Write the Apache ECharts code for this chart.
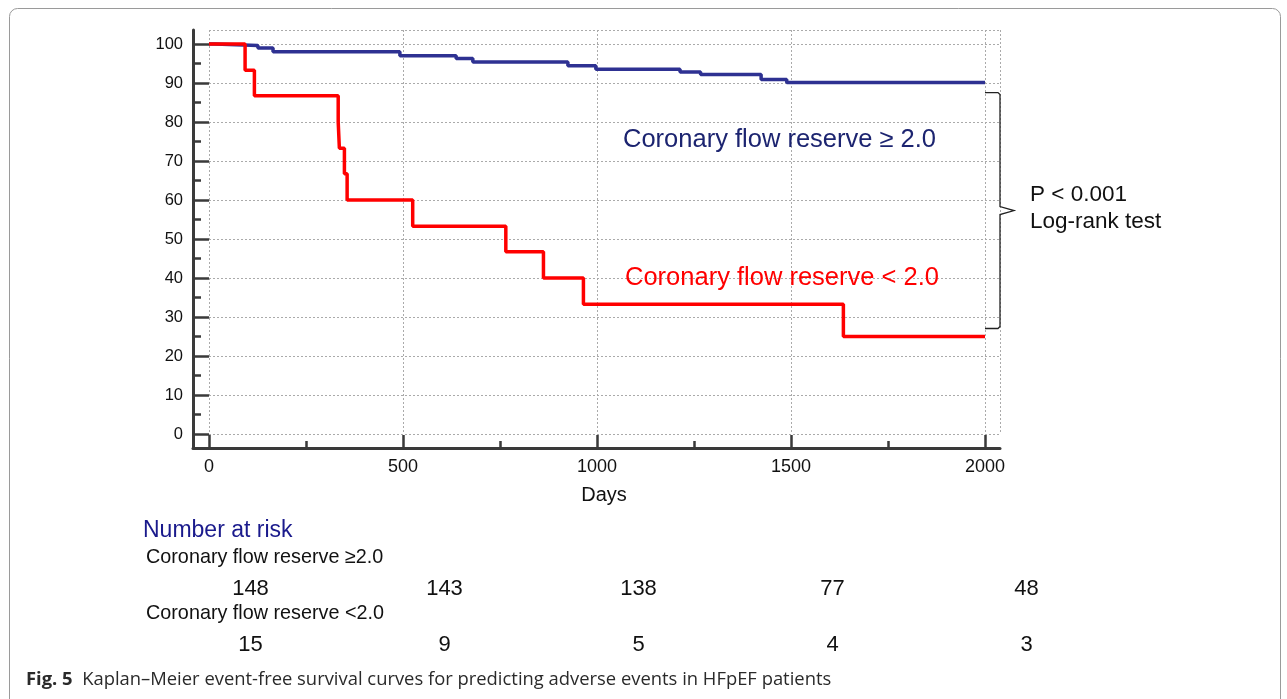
<!DOCTYPE html>
<html>
<head>
<meta charset="utf-8">
<script src="https://cdn.jsdelivr.net/npm/echarts@6/dist/echarts.min.js"></script>
<style>
html,body{margin:0;padding:0;background:#fff;}
#chart{width:1287px;height:699px;}
</style>
</head>
<body>
<div id="chart"></div>
<script>
// ---- Data ----
const cfrHighDays = [0, 15, 126, 165, 492, 637, 680, 925, 997, 1214, 1267, 1423, 1489, 2000];
const cfrHighSurv = [100, 99.6, 99.0, 98.0, 97.0, 96.3, 95.4, 94.4, 93.5, 92.8, 92.2, 90.9, 90.1, 90.1];
const cfrLowDays = [0, 93, 117, 333, 336, 349, 356, 525, 765, 862, 965, 1635, 2000];
const cfrLowSurv = [100, 93.3, 86.7, 80.0, 73.3, 66.7, 60.0, 53.3, 46.7, 40.0, 33.3, 25.0, 25.0];
const xMajorTicks = [0, 500, 1000, 1500, 2000];
const xMinorTicks = [250, 750, 1250, 1750];
const yMajorTicks = [0, 10, 20, 30, 40, 50, 60, 70, 80, 90, 100];
const yMinorTicks = [5, 15, 25, 35, 45, 55, 65, 75, 85, 95];
const riskDays = [0, 500, 1000, 1500, 2000];
const riskHigh = [148, 143, 138, 77, 48];
const riskLow = [15, 9, 5, 4, 3];
const labelHigh = 'Coronary flow reserve ≥ 2.0';
const labelLow = 'Coronary flow reserve < 2.0';
const riskRowHigh = 'Coronary flow reserve ≥2.0';
const riskRowLow = 'Coronary flow reserve <2.0';
const pText = 'P < 0.001';
const testText = 'Log-rank test';
const captionBold = 'Fig. 5';
const captionText = 'Kaplan–Meier event-free survival curves for predicting adverse events in HFpEF patients';

const FONT = '"Liberation Sans", Arial, sans-serif';
const CAPFONT = '"Open Sans", "Noto Sans", sans-serif';
const BLUE = '#2e3192';
const RED = '#ff0000';
const AXIS = '#3a3a3a';

const chart = echarts.init(document.getElementById('chart'), null, {renderer: 'canvas'});

// pixel scale of data grid
const gL = 209, gT = 30, gW = 791, gH = 404;       // data area (0..max)
const xMax = gW / 0.388, yMax = gH / 3.9;
const aL = 193, aBottom = 448;                    // axis frame
const xMin = -(gL - aL) / 0.388, yMin = -(aBottom - (gT + gH)) / 3.9;

function zip(a, b) { return a.map((v, i) => [v, b[i]]); }
const plain = v => String(Math.round(v));

const riskLabel = {show: true, position: [0, 0], align: 'center', verticalAlign: 'middle',
  formatter: p => String(p.value[2]), fontSize: 22, color: '#111', opacity: 1,
  textBorderWidth: 0, fontFamily: FONT};

const option = {
  backgroundColor: '#fff',
  animation: false,
  grid: [
    {left: gL, top: gT, width: gW, height: gH},
    {left: aL, top: gT, width: gL + gW - aL, height: aBottom - gT},
    {left: 251, top: 589, width: 776, height: 56}
  ],
  xAxis: [
    {gridIndex: 0, type: 'value', min: 0, max: xMax, interval: 500,
     axisLine: {show: false}, axisTick: {show: false}, axisLabel: {show: false},
     splitLine: {show: true, lineStyle: {color: '#aaa', width: 1, type: [2, 2]}}},
    {gridIndex: 1, type: 'value', min: xMin, max: xMax, position: 'bottom',
     axisLine: {show: true, onZero: false, lineStyle: {color: AXIS, width: 3}},
     axisTick: {show: true, inside: true, length: 13, customValues: xMajorTicks, lineStyle: {color: AXIS, width: 2.5}},
     axisLabel: {show: true, customValues: xMajorTicks, formatter: plain, margin: 10, fontSize: 18, color: '#111', fontFamily: FONT},
     splitLine: {show: false},
     name: 'Days', nameLocation: 'middle', nameGap: 37,
     nameTextStyle: {fontSize: 20, color: '#111', fontFamily: FONT, padding: [0, 0, 0, 15]}},
    {gridIndex: 1, type: 'value', min: xMin, max: xMax, position: 'bottom',
     axisLine: {show: false, onZero: false},
     axisTick: {show: true, inside: true, length: 7, customValues: xMinorTicks, lineStyle: {color: AXIS, width: 2.5}},
     axisLabel: {show: false}, splitLine: {show: false}},
    {gridIndex: 2, type: 'value', min: 0, max: 2000, show: false}
  ],
  yAxis: [
    {gridIndex: 0, type: 'value', min: 0, max: yMax, interval: 10,
     axisLine: {show: false}, axisTick: {show: false}, axisLabel: {show: false},
     splitLine: {show: true, lineStyle: {color: '#aaa', width: 1, type: [2, 2]}}},
    {gridIndex: 1, type: 'value', min: yMin, max: yMax, position: 'left',
     axisLine: {show: true, onZero: false, lineStyle: {color: AXIS, width: 3}},
     axisTick: {show: true, inside: true, length: 16, customValues: yMajorTicks, lineStyle: {color: AXIS, width: 2.5}},
     axisLabel: {show: true, customValues: yMajorTicks, formatter: plain, margin: 10, fontSize: 16.5, color: '#111', fontFamily: FONT},
     splitLine: {show: false}},
    {gridIndex: 1, type: 'value', min: yMin, max: yMax, position: 'left',
     axisLine: {show: false, onZero: false},
     axisTick: {show: true, inside: true, length: 8, customValues: yMinorTicks, lineStyle: {color: AXIS, width: 2.5}},
     axisLabel: {show: false}, splitLine: {show: false}},
    {gridIndex: 2, type: 'value', min: 0, max: 1, inverse: true, show: false}
  ],
  series: [
    {type: 'line', name: labelHigh, xAxisIndex: 0, yAxisIndex: 0, step: 'end',
     data: zip(cfrHighDays, cfrHighSurv), showSymbol: false, symbol: 'none',
     lineStyle: {color: BLUE, width: 3.5}, z: 3},
    {type: 'line', name: labelLow, xAxisIndex: 0, yAxisIndex: 0, step: 'end',
     data: zip(cfrLowDays, cfrLowSurv), showSymbol: false, symbol: 'none',
     lineStyle: {color: RED, width: 3.5}, z: 4},
    {type: 'scatter', xAxisIndex: 3, yAxisIndex: 3, symbolSize: 1,
     itemStyle: {color: '#fff', opacity: 1},
     data: riskDays.map((d, i) => [d, 0, riskHigh[i]]), label: riskLabel},
    {type: 'scatter', xAxisIndex: 3, yAxisIndex: 3, symbolSize: 1,
     itemStyle: {color: '#fff', opacity: 1},
     data: riskDays.map((d, i) => [d, 1, riskLow[i]]), label: riskLabel}
  ]
};
chart.setOption(option);

// bracket between final survival levels, positioned through the data scale
const pTop = chart.convertToPixel({gridIndex: 0}, [2000, cfrHighSurv[cfrHighSurv.length - 1]]);
const pBot = chart.convertToPixel({gridIndex: 0}, [2000, cfrLowSurv[cfrLowSurv.length - 1]]);
const yT = pTop[1] + 10, yB = pBot[1] - 8, xS = pTop[0], xV = xS + 15, yM = (yT + yB) / 2;

chart.setOption({
  graphic: [
    {type: 'rect', shape: {x: 9.5, y: 8.5, width: 1271, height: 720, r: 8},
     style: {fill: 'none', stroke: '#9a9a9a', lineWidth: 1}, z: -1, silent: true},
    {type: 'polyline', shape: {points: [[xS, yT], [xV - 2, yT], [xV, yT + 2], [xV, yM - 4], [xV + 14, yM], [xV, yM + 4], [xV, yB - 2], [xV - 2, yB], [xS, yB]]},
     style: {fill: 'none', stroke: '#222', lineWidth: 1.3}},
    {type: 'text', left: 1030, top: 183, style: {text: pText, font: '22.5px ' + FONT, fill: '#111'}},
    {type: 'text', left: 1030, top: 210, style: {text: testText, font: '22.5px ' + FONT, fill: '#111'}},
    {type: 'text', left: 623, top: 127, style: {text: labelHigh, font: '25.5px ' + FONT, fill: '#1c2470'}},
    {type: 'text', left: 625, top: 265, style: {text: labelLow, font: '25.5px ' + FONT, fill: RED}},
    {type: 'text', left: 143, top: 519, style: {text: 'Number at risk', font: '23px ' + FONT, fill: '#1a1a8c'}},
    {type: 'text', left: 146, top: 548, style: {text: riskRowHigh, font: '19.8px ' + FONT, fill: '#111'}},
    {type: 'text', left: 146, top: 604, style: {text: riskRowLow, font: '19.8px ' + FONT, fill: '#111'}},
    {type: 'text', left: 26, top: 671, style: {
      text: '{b|' + captionBold + '}  ' + captionText,
      font: '18.4px ' + CAPFONT, fill: '#2a2a2a',
      rich: {b: {fontWeight: 'bold', fontSize: 18.4, fontFamily: CAPFONT, fill: '#2a2a2a'}}
    }}
  ]
});
</script>
</body>
</html>
